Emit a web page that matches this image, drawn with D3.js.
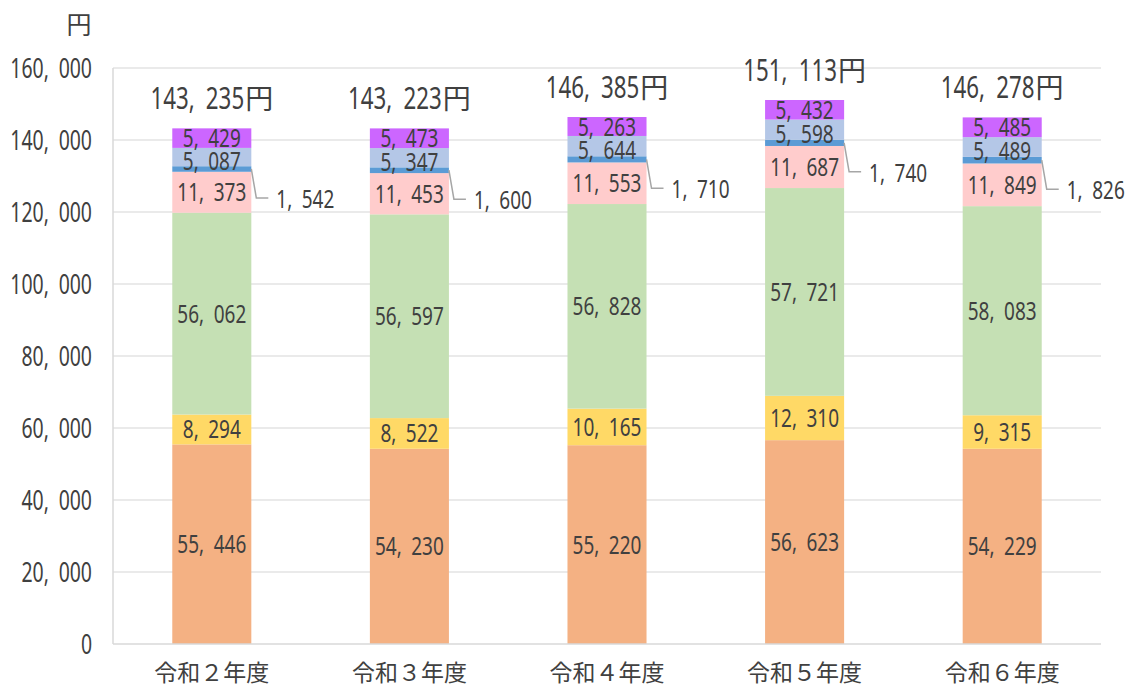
<!DOCTYPE html>
<html>
<head>
<meta charset="utf-8">
<script src="https://cdn.jsdelivr.net/npm/d3@7"></script>
<style>
  body { margin: 0; background: #fff; }
  svg { display: block; }
</style>
</head>
<body>
<div id="chart"></div>
<script>
// data
const years = ["令和２年度", "令和３年度", "令和４年度", "令和５年度", "令和６年度"];
const keys = ["a", "b", "c", "d", "e", "f", "g"];
const colors = ["#F4B183", "#FFD966", "#C5E0B4", "#FFCCCC", "#5B9BD5", "#B4C7E7", "#CC66FF"];
const seriesA = [55446, 54230, 55220, 56623, 54229];
const seriesB = [8294, 8522, 10165, 12310, 9315];
const seriesC = [56062, 56597, 56828, 57721, 58083];
const seriesD = [11373, 11453, 11553, 11687, 11849];
const seriesE = [1542, 1600, 1710, 1740, 1826];
const seriesF = [5087, 5347, 5644, 5598, 5489];
const seriesG = [5429, 5473, 5263, 5432, 5485];
const totals = [143235, 143223, 146385, 151113, 146278];
const yTicks = [0, 20000, 40000, 60000, 80000, 100000, 120000, 140000, 160000];

const allSeries = [seriesA, seriesB, seriesC, seriesD, seriesE, seriesF, seriesG];
const table = years.map((y, i) => {
  const row = { year: y };
  keys.forEach((k, j) => row[k] = allSeries[j][i]);
  return row;
});

const W = 1136, H = 689;
const plotL = 113, plotR = 1101, plotT = 68, plotB = 644;
const txt = "#404040";
const sx = 0.72;   // horizontal squeeze for narrow digits (axis, totals)
const lsx = 0.76;  // squeeze for the bar labels
const lfs = 25;    // bar label font size

const fmt = n => d3.format(",")(n).replace(",", ",\u2002");

const svg = d3.select("#chart").append("svg")
  .attr("width", W).attr("height", H);

const x = d3.scaleBand().domain(years).range([plotL, plotR]).paddingInner(0.6).paddingOuter(0.3);
const y = d3.scaleLinear().domain([0, 160000]).range([plotB, plotT]);

// gridlines
svg.append("g").selectAll("line")
  .data(yTicks.filter(d => d > 0)).enter()
  .append("line")
  .attr("x1", plotL).attr("x2", plotR)
  .attr("y1", d => y(d)).attr("y2", d => y(d))
  .attr("stroke", "#E3E3E3").attr("stroke-width", 1.3);

// axis line
svg.append("line").attr("x1", plotL).attr("x2", plotL).attr("y1", plotT).attr("y2", plotB)
  .attr("stroke", "#D9D9D9").attr("stroke-width", 1.5);

// y tick labels
svg.append("g").selectAll("text")
  .data(yTicks).enter()
  .append("text")
  .attr("transform", d => `translate(92,${y(d)}) scale(${sx},1)`)
  .attr("dy", "0.36em")
  .attr("text-anchor", "end")
  .attr("font-family", "Noto Sans")
  .attr("font-size", 27)
  .attr("fill", txt)
  .text(d => fmt(d));

svg.append("text")
  .attr("x", 79).attr("y", 34)
  .attr("text-anchor", "middle")
  .attr("font-family", "Noto Sans CJK JP")
  .attr("font-size", 25)
  .attr("fill", txt)
  .text("円");

// stacked bars
const stacked = d3.stack().keys(keys)(table);

const layers = svg.append("g").selectAll("g")
  .data(stacked).enter()
  .append("g")
  .attr("fill", (d, i) => colors[i]);

layers.selectAll("rect")
  .data(d => d).enter()
  .append("rect")
  .attr("x", d => x(d.data.year))
  .attr("width", x.bandwidth())
  .attr("y", d => y(d[1]))
  .attr("height", d => y(d[0]) - y(d[1]));

// bottom axis line (over bars)
svg.append("line").attr("x1", plotL).attr("x2", plotR).attr("y1", plotB).attr("y2", plotB)
  .attr("stroke", "#D9D9D9").attr("stroke-width", 1.5);

// segment labels
stacked.forEach((layer, i) => {
  layer.forEach(d => {
    const cx = x(d.data.year) + x.bandwidth() / 2;
    let ym = y((d[0] + d[1]) / 2);
    if (keys[i] === "f") ym += 4; // light blue label sits a little low
    const val = d.data[keys[i]];
    if (keys[i] === "e") {
      const x1 = x(d.data.year) + x.bandwidth();
      svg.append("polyline")
        .attr("points", `${x1},${ym} ${x1 + 5},${ym + 29} ${x1 + 17},${ym + 29}`)
        .attr("fill", "none").attr("stroke", "#A6A6A6").attr("stroke-width", 1.5);
      svg.append("text")
        .attr("transform", `translate(${x1 + 25},${ym + 30}) scale(${lsx},1)`)
        .attr("dy", "0.36em")
        .attr("font-family", "Noto Sans").attr("font-size", lfs)
        .attr("fill", txt)
        .text(fmt(val));
    } else {
      svg.append("text")
        .attr("transform", `translate(${cx},${ym}) scale(${lsx},1)`)
        .attr("dy", "0.36em")
        .attr("text-anchor", "middle")
        .attr("font-family", "Noto Sans").attr("font-size", lfs)
        .attr("fill", txt)
        .text(fmt(val));
    }
  });
});

// totals
totals.forEach((t, i) => {
  const cx = x(years[i]) + x.bandwidth() / 2;
  const yb = y(t) - 19;
  const g = svg.append("g");
  const num = g.append("text")
    .attr("font-family", "Noto Sans").attr("font-size", 31)
    .attr("fill", txt)
    .attr("transform", `scale(${sx},1)`)
    .text(fmt(t));
  const nw = num.node().getComputedTextLength() * sx;
  const yen = g.append("text")
    .attr("x", nw + 1)
    .attr("font-family", "Noto Sans CJK JP").attr("font-size", 28)
    .attr("fill", txt)
    .text("円");
  const yw = yen.node().getComputedTextLength();
  g.attr("transform", `translate(${cx - (nw + 1 + yw) / 2},${yb})`);
});

// category labels
svg.append("g").selectAll("text")
  .data(years).enter()
  .append("text")
  .attr("x", d => x(d) + x.bandwidth() / 2)
  .attr("y", 681)
  .attr("text-anchor", "middle")
  .attr("font-family", "Noto Sans CJK JP")
  .attr("font-size", 23)
  .attr("fill", txt)
  .text(d => d);
</script>
</body>
</html>
